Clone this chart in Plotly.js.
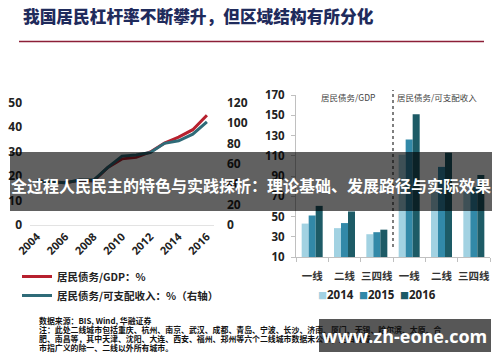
<!DOCTYPE html>
<html>
<head>
<meta charset="utf-8">
<script src="https://cdn.plot.ly/plotly-3.0.1.min.js"></script>
<style>html,body{margin:0;padding:0;background:#fff;}#chart{width:500px;height:362px;}</style>
</head>
<body>
<div id="chart"></div>
<script>
// ---- data ----
const years = [2004, 2005, 2006, 2007, 2008, 2009, 2010, 2011, 2012, 2013, 2014, 2015, 2016];
const debtToGDP = [18.0, 17.6, 17.2, 18.3, 18.0, 23.5, 27.0, 27.6, 29.8, 33.4, 35.9, 38.9, 44.8];
const debtToIncome = [43, 42, 41.5, 44, 44, 56.5, 67.5, 68.5, 71, 80, 82.5, 89, 101];
const yearTicks = [2004, 2006, 2008, 2010, 2012, 2014, 2016];

const categories = ['一线', '二线', '三四线', '一线', '二线', '三四线'];
const bar2014 = [43, 38.5, 32.5, 111, 75, 75];
const bar2015 = [51, 43.5, 34.5, 126, 99, 79];
const bar2016 = [60.5, 55, 37, 151, 113, 91];
const barYears = ['2014', '2015', '2016'];
const pctTicks = [10, 30, 50, 70, 90, 110, 130, 150, 170];

// ---- helpers (pixel -> paper) ----
const W = 500, H = 362;
const px = x => x / W;
const py = y => (H - y) / H;

const CJK = '"Noto Sans CJK SC", "Noto Sans", sans-serif';
const NUM = '"Open Sans", "Noto Sans CJK SC", sans-serif';

// unique category keys so repeated labels stay separate
const catKeys = categories.map((c, i) => i < 3 ? c : c + '\u200b');

const barColors = ['#a2d2e2', '#3289a8', '#1d5b66'];
const barVals = [bar2014, bar2015, bar2016];

const traces = [
  {
    x: years, y: debtToGDP, type: 'scatter', mode: 'lines',
    name: '居民债务/GDP：%', line: {color: '#b7202e', width: 3},
    xaxis: 'x', yaxis: 'y'
  },
  {
    x: years, y: debtToIncome, type: 'scatter', mode: 'lines',
    name: '居民债务/可支配收入：%（右轴）', line: {color: '#2f6b78', width: 3},
    xaxis: 'x', yaxis: 'y2'
  }
];
barYears.forEach((yr, k) => {
  traces.push({
    x: catKeys, y: barVals[k], type: 'bar', name: yr, showlegend: false,
    marker: {color: barColors[k]}, xaxis: 'x2', yaxis: 'y3'
  });
});

// left plot: half a year of padding on each side of the data
const xr0 = years[0] - 0.5, xr1 = years[years.length - 1] + 0.5;

const noteFont = {family: CJK, size: 7.9, color: '#111', weight: 700};
const ann = (text, x, y, font, xanchor) => ({
  text, xref: 'paper', yref: 'paper', x: px(x), y: py(y),
  xanchor: xanchor || 'left', yanchor: 'middle', showarrow: false, font
});

// bar legend as coloured squares + labels
const barLegend = barYears.map((yr, k) => ann(
  '<span style="color:' + barColors[k] + ';font-size:9px">■</span>' + yr,
  316 + k * 41, 294, {family: NUM, size: 11.5, color: '#222', weight: 700}));

const layout = {
  width: W, height: H,
  margin: {l: 0, r: 0, t: 0, b: 0},
  paper_bgcolor: '#ffffff', plot_bgcolor: 'rgba(0,0,0,0)',
  showlegend: true,
  barmode: 'group', bargap: 0.35, bargroupgap: 0,
  xaxis: {
    domain: [px(30), px(214)], range: [xr0, xr1], anchor: 'y',
    tickvals: yearTicks, ticktext: yearTicks.map(String), tickangle: -45,
    tickfont: {family: NUM, size: 11, color: '#222', weight: 700},
    showgrid: false, zeroline: false, showline: true, linecolor: '#e3e3e3', linewidth: 1, ticks: ''
  },
  yaxis: {
    domain: [py(225), py(102.5)], range: [0, 50], anchor: 'free', position: px(22),
    tickvals: [0, 10, 20, 30, 40, 50], showgrid: false, zeroline: false, showline: false, ticks: '',
    tickfont: {family: NUM, size: 12, color: '#222', weight: 700}
  },
  yaxis2: {
    overlaying: 'y', side: 'right', range: [0, 120], anchor: 'free', position: px(226),
    tickvals: [0, 20, 40, 60, 80, 100, 120], showgrid: false, zeroline: false, showline: false, ticks: '',
    tickfont: {family: NUM, size: 12, color: '#222', weight: 700}
  },
  xaxis2: {
    domain: [px(296), px(490)], anchor: 'y3', type: 'category', range: [-0.5, 5.5],
    tickson: 'boundaries', ticks: 'outside', ticklen: 4, tickcolor: '#c0c0c0', tickangle: 0,
    ticklabelstandoff: 9,
    showline: true, linecolor: '#c0c0c0', showgrid: false,
    tickfont: {family: CJK, size: 10.5, color: '#333', weight: 700}
  },
  yaxis3: {
    domain: [py(257), py(95)], range: [10, 170], anchor: 'x2',
    tickvals: pctTicks, ticksuffix: '%', ticks: 'outside', ticklen: 4, tickcolor: '#c0c0c0',
    ticklabelstandoff: 4,
    showline: true, linecolor: '#c0c0c0', showgrid: false, zeroline: false,
    tickfont: {family: NUM, size: 11.5, color: '#222', weight: 700}
  },
  legend: {
    x: px(17), y: py(262), xanchor: 'left', yanchor: 'top', orientation: 'v',
    bgcolor: 'rgba(0,0,0,0)', itemwidth: 30, tracegroupgap: 0,
    font: {family: CJK, size: 10.5, color: '#222', weight: 700}
  },
  shapes: [
    {type: 'line', xref: 'paper', yref: 'paper', x0: px(19), x1: px(484), y0: py(41.5), y1: py(41.5),
     line: {color: '#8c1f37', width: 1.5}},
    {type: 'line', xref: 'x2', yref: 'paper', x0: 2.5, x1: 2.5, y0: py(247), y1: py(90),
     line: {color: '#555', width: 1.5, dash: 'dot'}},
    {type: 'rect', xref: 'paper', yref: 'paper', x0: px(10), x1: px(492), y0: py(211), y1: py(152),
     fillcolor: 'rgba(0,0,0,0.62)', line: {width: 0}, layer: 'above'},
    {type: 'rect', xref: 'paper', yref: 'paper', x0: px(319), x1: px(491), y0: py(352), y1: py(319),
     fillcolor: 'rgba(0,0,0,0.66)', line: {width: 0}, layer: 'above'}
  ],
  annotations: [
    ann('我国居民杠杆率不断攀升，但区域结构有所分化', 21, 16, {family: CJK, size: 16.7, color: '#1f2b5c', weight: 900}),
    ann('居民债务/GDP', 348, 97, {family: CJK, size: 8.5, color: '#444'}, 'center'),
    ann('居民债务/可支配收入', 437, 97, {family: CJK, size: 8.5, color: '#444'}, 'center'),
    ann('数据来源：BIS, Wind, 华融证券', 37, 320, noteFont),
    ann('注：此处二线城市包括重庆、杭州、南京、武汉、成都、青岛、宁波、长沙、济南、厦门、无锡、哈尔滨、太原、合', 37, 329, noteFont),
    ann('肥、南昌等，其中天津、沈阳、大连、西安、福州、郑州等六个二线城市数据未公布，三四线城', 37, 338, noteFont),
    ann('市指广义的除一、二线以外所有城市。', 37, 347, noteFont),
    ...barLegend,
    ann('全过程人民民主的特色与实践探析：理论基础、发展路径与实际效果', 9, 185, {family: CJK, size: 16, color: '#ffffff', weight: 700}),
    ann('www.zh-eone.com', 404, 336, {family: NUM, size: 18, color: '#ffffff', weight: 700}, 'center')
  ]
};

Plotly.newPlot('chart', traces, layout, {displayModeBar: false, staticPlot: true});
</script>
</body>
</html>
